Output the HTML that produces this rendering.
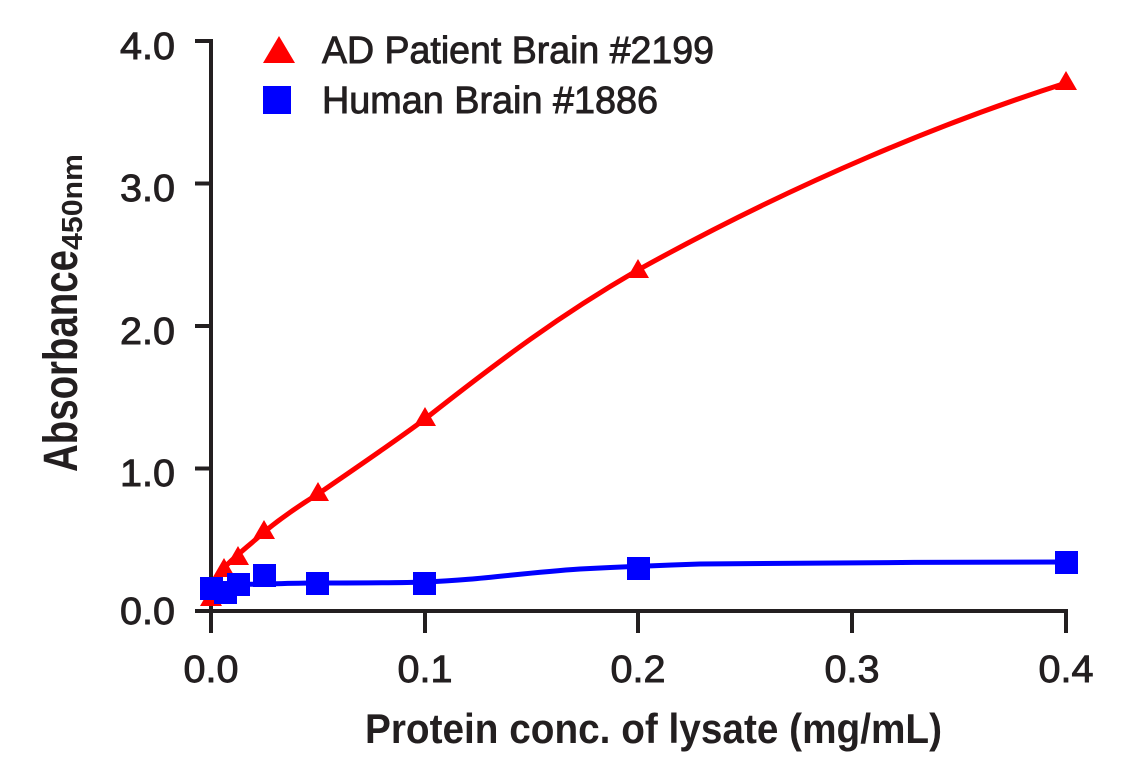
<!DOCTYPE html>
<html><head><meta charset="utf-8"><style>
html,body{margin:0;padding:0;background:#fff;}
svg{display:block;}
text{font-family:"Liberation Sans Narrow","Liberation Sans",sans-serif;fill:#231f20;}
.t{stroke:#231f20;stroke-width:0.9;}
</style></head><body>
<svg width="1141" height="768" viewBox="0 0 1141 768">
<g stroke="#231f20" stroke-width="4" fill="none">
<path d="M195 41H211V611"/>
<path d="M195 183.5H211M195 326H211M195 468.5H211M195 611H1068"/>
<path d="M211 611V633M425 611V633M638 611V633M852 611V633M1066 611V633"/>
</g>
<g font-size="38" class="t">
<text x="175" y="59" text-anchor="end" textLength="55" lengthAdjust="spacingAndGlyphs">4.0</text>
<text x="175" y="201" text-anchor="end" textLength="55" lengthAdjust="spacingAndGlyphs">3.0</text>
<text x="175" y="344" text-anchor="end" textLength="55" lengthAdjust="spacingAndGlyphs">2.0</text>
<text x="175" y="486" text-anchor="end" textLength="55" lengthAdjust="spacingAndGlyphs">1.0</text>
<text x="175" y="624" text-anchor="end" textLength="55" lengthAdjust="spacingAndGlyphs">0.0</text>
<text x="211" y="682" text-anchor="middle" textLength="55" lengthAdjust="spacingAndGlyphs">0.0</text>
<text x="425" y="682" text-anchor="middle" textLength="55" lengthAdjust="spacingAndGlyphs">0.1</text>
<text x="638" y="682" text-anchor="middle" textLength="55" lengthAdjust="spacingAndGlyphs">0.2</text>
<text x="852" y="682" text-anchor="middle" textLength="55" lengthAdjust="spacingAndGlyphs">0.3</text>
<text x="1066" y="682" text-anchor="middle" textLength="55" lengthAdjust="spacingAndGlyphs">0.4</text>
<text x="322" y="63" textLength="392" lengthAdjust="spacingAndGlyphs">AD Patient Brain #2199</text>
<text x="322" y="113" textLength="336" lengthAdjust="spacingAndGlyphs">Human Brain #1886</text>
</g>
<text x="365" y="743" font-size="42" font-weight="bold" textLength="577" lengthAdjust="spacingAndGlyphs">Protein conc. of lysate (mg/mL)</text>
<g transform="translate(77 472) rotate(-90)">
<text x="0" y="0" font-size="48" font-weight="bold" textLength="222" lengthAdjust="spacingAndGlyphs">Absorbance</text>
<text x="222" y="5" font-size="29" font-weight="bold" textLength="96" lengthAdjust="spacingAndGlyphs">450nm</text>
</g>
<polygon points="279,36 263,63 295,63" fill="#f00"/>
<rect x="263" y="86" width="28" height="28" fill="#00f"/>
<path d="M212 598 C214 585 218 575 224 568 C235 556 250 545 264 532 C285 515 300 505 318 494 C360 465 390 445 425 419 C500 360 560 315 638 270 C800 180 950 120 1066 83" stroke="#f00" stroke-width="5" fill="none"/>
<path d="M211 588 C215 585 220 583 238 584 C260 585 280 583 318 583 C360 583 400 583 425 582 C480 580 520 573 580 569 C620 567 640 566 700 564 C800 563 950 562 1066 562" stroke="#00f" stroke-width="5" fill="none"/>
<g fill="#f00">
<polygon points="211,587 200,606 222,606"/>
<polygon points="224,558 213,577 235,577"/>
<polygon points="238,546 227,565 249,565"/>
<polygon points="264,520 253,539 275,539"/>
<polygon points="318,482 307,501 329,501"/>
<polygon points="425,407 414,426 436,426"/>
<polygon points="638,259 627,278 649,278"/>
<polygon points="1066,71 1055,90 1077,90"/>
</g>
<g fill="#00f">
<rect x="200" y="577" width="23" height="23"/>
<rect x="214" y="581" width="23" height="23"/>
<rect x="227" y="573" width="23" height="23"/>
<rect x="253" y="564" width="23" height="23"/>
<rect x="306" y="572" width="23" height="23"/>
<rect x="413" y="572" width="23" height="23"/>
<rect x="627" y="557" width="23" height="23"/>
<rect x="1055" y="551" width="23" height="23"/>
</g>
</svg>
</body></html>
